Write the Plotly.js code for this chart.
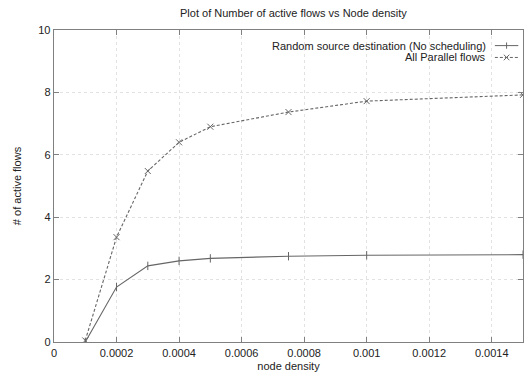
<!DOCTYPE html>
<html><head><meta charset="utf-8">
<script src="https://cdn.plot.ly/plotly-3.0.1.min.js"></script>
<style>html,body{margin:0;padding:0;background:#fff}#c{width:524px;height:377px}</style>
</head><body><div id="c"></div>
<script>
const density = [0.0001, 0.0002, 0.0003, 0.0004, 0.0005, 0.00075, 0.001, 0.0015];
const randomFlows = [0.0, 1.76, 2.44, 2.6, 2.68, 2.75, 2.78, 2.8];
const parallelFlows = [0.05, 3.36, 5.48, 6.4, 6.9, 7.37, 7.72, 7.92];
const seriesNames = ["Random source destination (No scheduling)", "All Parallel flows"];
const xTicks = [0, 0.0002, 0.0004, 0.0006, 0.0008, 0.001, 0.0012, 0.0014];
const xTickText = ["0", "0.0002", "0.0004", "0.0006", "0.0008", "0.001", "0.0012", "0.0014"];
const yTicks = [0, 2, 4, 6, 8, 10];

const lineCol = "#666";
const font = {family: "Liberation Sans, Arial, sans-serif", size: 11, color: "#222"};
const traces = [
  {x: density, y: randomFlows, name: seriesNames[0], mode: "lines+markers",
   line: {color: lineCol, width: 1.1}, marker: {symbol: "line-ns-open", size: 6, color: lineCol, line: {color: lineCol, width: 1}}},
  {x: density, y: parallelFlows, name: seriesNames[1], mode: "lines+markers",
   line: {color: lineCol, width: 1.1, dash: "3px,2px"}, marker: {symbol: "x-thin-open", size: 6, color: lineCol, line: {color: lineCol, width: 1}}}
];
const axisCommon = {showline: true, linecolor: "#808080", linewidth: 1.3, mirror: "ticks", ticks: "inside", ticklen: 5,
  tickcolor: "#808080", showgrid: true, gridcolor: "#e2e2e2", griddash: "dot", gridwidth: 1, zeroline: false, tickfont: font};
// custom legend (sample on the right of text, gnuplot style)
const legY = [0.95, 0.912];
const annotations = seriesNames.map((n, i) => ({xref: "paper", yref: "paper", x: 0.925, y: legY[i], text: n,
  showarrow: false, xanchor: "right", yanchor: "middle", font: font}));
const shapes = [
  {type: "line", xref: "paper", yref: "paper", x0: 0.94, x1: 0.99, y0: legY[0], y1: legY[0], line: {color: lineCol, width: 1}},
  {type: "line", xref: "paper", yref: "paper", x0: 0.94, x1: 0.99, y0: legY[1], y1: legY[1], line: {color: lineCol, width: 1, dash: "3px,2px"}},
  {type: "line", xref: "paper", yref: "paper", x0: 0.965, x1: 0.965, y0: legY[0] - 0.01, y1: legY[0] + 0.01, line: {color: lineCol, width: 1}},
  {type: "line", xref: "paper", yref: "paper", x0: 0.959, x1: 0.971, y0: legY[1] - 0.009, y1: legY[1] + 0.009, line: {color: lineCol, width: 1}},
  {type: "line", xref: "paper", yref: "paper", x0: 0.959, x1: 0.971, y0: legY[1] + 0.009, y1: legY[1] - 0.009, line: {color: lineCol, width: 1}}
];
const layout = {
  width: 524, height: 377, margin: {l: 54, r: 1, t: 30, b: 35},
  paper_bgcolor: "#fff", plot_bgcolor: "#fff", showlegend: false, font: font,
  title: {text: "Plot of Number of active flows vs Node density", font: font, x: 0.56, xanchor: "center", y: 0.965, yanchor: "middle"},
  xaxis: Object.assign({}, axisCommon, {range: [0, 0.0015], tickvals: xTicks, ticktext: xTickText,
    title: {text: "node density", font: font, standoff: 4}}),
  yaxis: Object.assign({}, axisCommon, {range: [0, 10], tickvals: yTicks,
    title: {text: "# of active flows", font: font, standoff: 14}}),
  annotations: annotations, shapes: shapes
};
Plotly.newPlot("c", traces, layout, {staticPlot: true});
</script></body></html>
